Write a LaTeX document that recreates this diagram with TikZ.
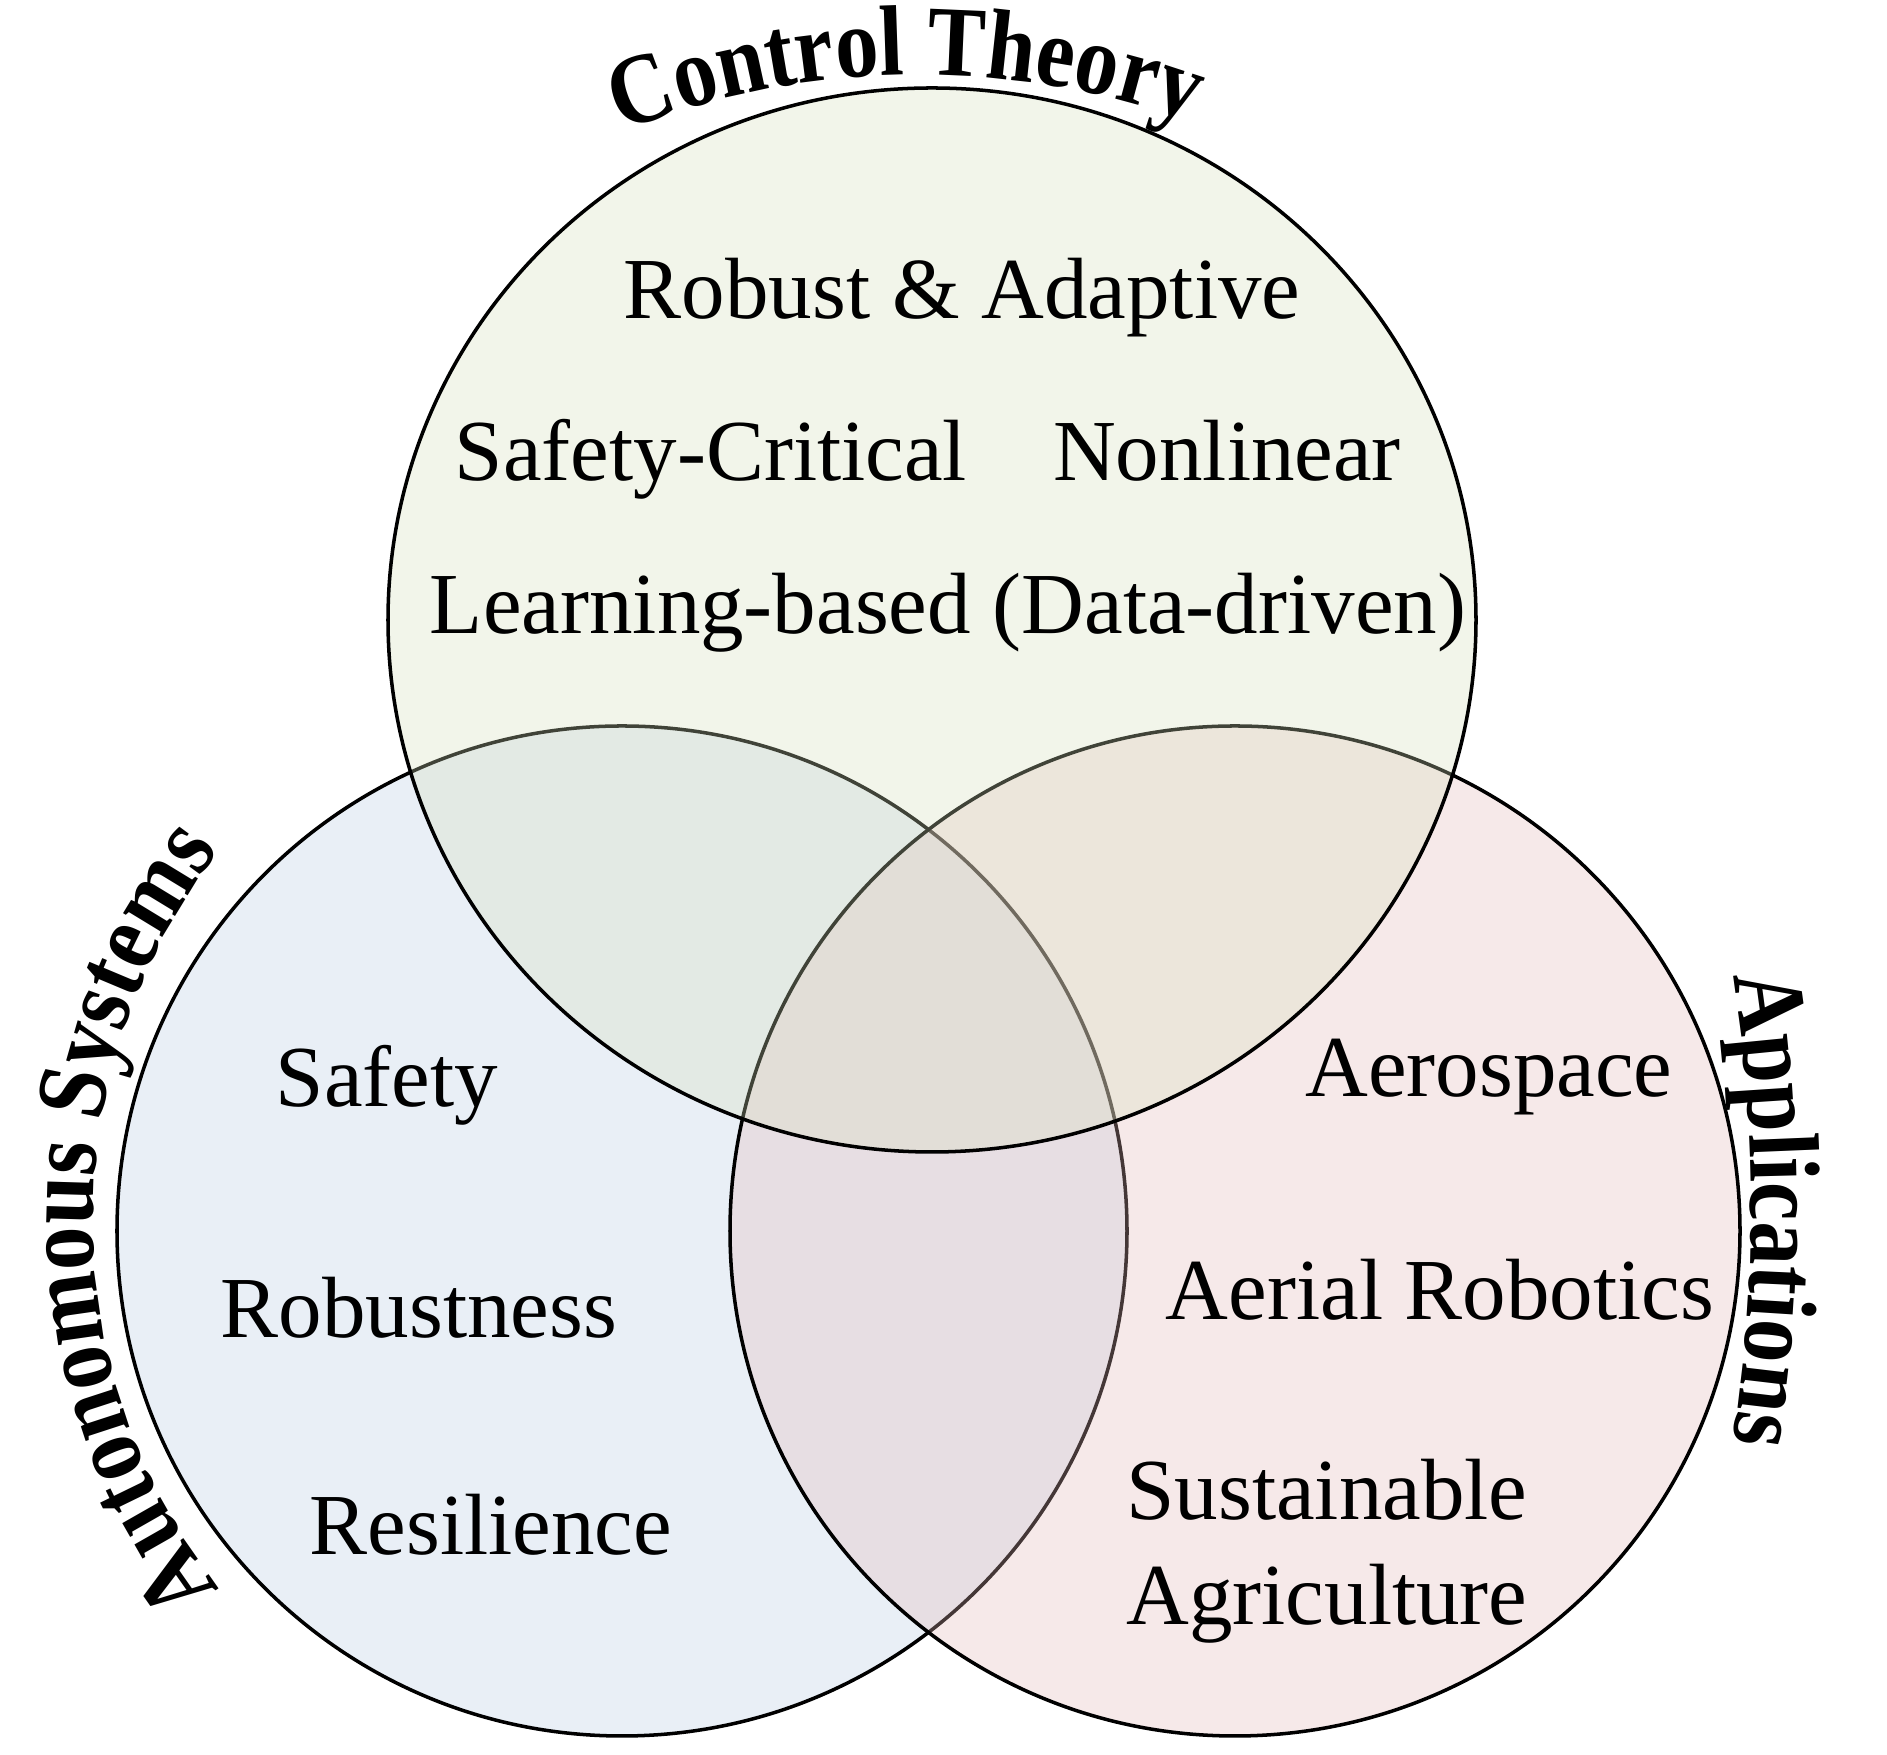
\documentclass[tikz,border=0pt]{standalone}
\usepackage{fontspec}
\setmainfont{Liberation Serif}
\newfontfamily\lblfont[FakeStretch=0.87]{Liberation Serif}
\usetikzlibrary{decorations.text}
\newcommand\lblstyle{\lblfont\bfseries\fontsize{28.45pt}{34pt}\selectfont}
\definecolor{topc}{RGB}{215,225,188}
\definecolor{leftc}{RGB}{185,205,228}
\definecolor{rightc}{RGB}{228,185,184}
\tikzset{
  setc/.style={draw=black, line width=1pt, fill opacity=0.3},
  item/.style={anchor=base, inner sep=0pt, font=\fontsize{24.75pt}{30pt}\selectfont},
  arclabel/.style={decorate, decoration={text along path, text align=center, text={#1}}}
}
\begin{document}
\begin{tikzpicture}
\fill[white] (0,0) rectangle (18.87,17.55);
\useasboundingbox (0,0) rectangle (18.87,17.55);
% sets
\path[setc, fill=leftc] (6.22,5.24) circle[radius=5.05cm];
\path[setc, fill=rightc] (12.35,5.24) circle[radius=5.05cm];
\path[setc, fill=topc] (9.32,11.35) ellipse[x radius=5.44cm, y radius=5.32cm];
% arc centres for labels
\coordinate (tc) at (9.20,8.72);
\coordinate (lc) at (6.93,5.35);
\coordinate (rc) at (2.51,5.46);
\path[arclabel={|\lblstyle|Control Theory}] (tc) ++(121:8.08) arc[start angle=121, end angle=61, radius=8.08cm];
\path[arclabel={|\lblstyle|Autonomous Systems}] (lc) ++(220:6.00) arc[start angle=220, end angle=140, radius=6.00cm];
\path[arclabel={|\lblstyle|Applications}] (rc) ++(10:15) arc[start angle=10, end angle=-10, radius=15cm];
% items
\node[item] (ra) at (9.62,14.36) {Robust \& Adaptive};
\node[item] (sc) at (7.11,12.74) {Safety-Critical};
\node[item] (nl) at (12.27,12.74) {Nonlinear};
\node[item] (lb) at (9.48,11.21) {Learning-based (Data-driven)};
\node[item] (sa) at (3.87,6.48) {Safety};
\node[item] (ro) at (4.19,4.17) {Robustness};
\node[item] (re) at (4.91,2.00) {Resilience};
\node[item] (ae) at (14.89,6.58) {Aerospace};
\node[item] (ar) at (14.40,4.35) {Aerial Robotics};
\node[item] (su) at (13.27,2.35) {Sustainable};
\node[item] (ag) at (13.27,1.30) {Agriculture};
\end{tikzpicture}
\end{document}
